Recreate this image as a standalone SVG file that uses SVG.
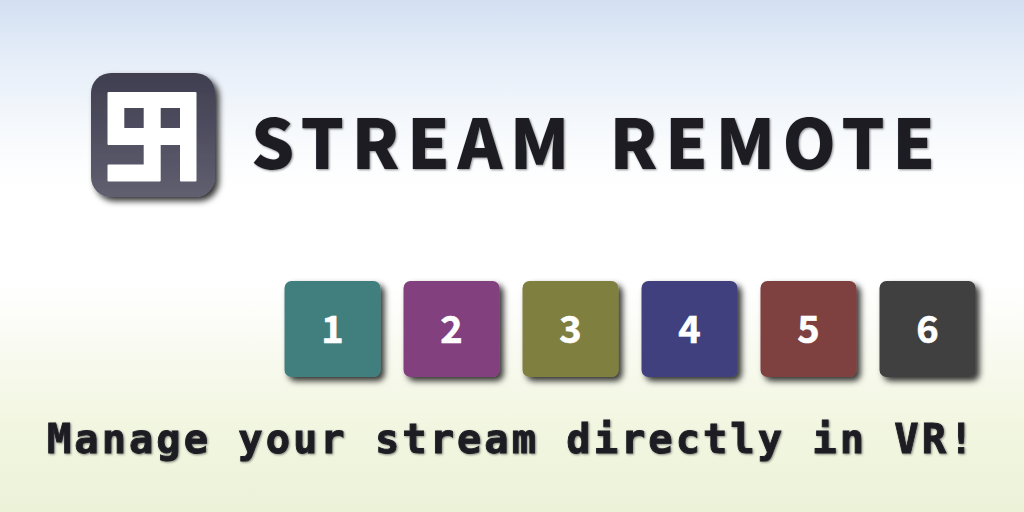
<svg xmlns="http://www.w3.org/2000/svg" width="1024" height="512" viewBox="0 0 1024 512">
<defs>
<linearGradient id="bg" x1="0" y1="0" x2="0" y2="1"><stop offset="0" stop-color="#d3e0f2"/><stop offset="0.12" stop-color="#e6eef9"/><stop offset="0.25" stop-color="#f6f9fc"/><stop offset="0.36" stop-color="#ffffff"/><stop offset="0.56" stop-color="#ffffff"/><stop offset="0.7" stop-color="#f8faef"/><stop offset="0.8" stop-color="#f3f7e3"/><stop offset="1" stop-color="#ecf2d8"/></linearGradient>
<linearGradient id="logo" x1="0" y1="0" x2="0" y2="1"><stop offset="0" stop-color="#3f3e50"/><stop offset="1" stop-color="#605f70"/></linearGradient>
<filter id="sh" x="-20%" y="-20%" width="150%" height="150%"><feDropShadow dx="4" dy="4" stdDeviation="3" flood-color="#000" flood-opacity="0.8"/></filter>
<filter id="ts" x="-5%" y="-20%" width="110%" height="140%"><feDropShadow dx="1" dy="1" stdDeviation="1" flood-color="#000" flood-opacity="0.45"/></filter>
</defs>
<style>
.k{filter:url(#sh)}
.n{font-family:"Noto Sans CJK JP",sans-serif;font-weight:700;font-size:38px;fill:#fff;stroke:#fff;stroke-width:0.6px;text-anchor:middle}
.t{font-family:"Noto Sans CJK JP",sans-serif;font-weight:900;font-size:68px;letter-spacing:7.500px;word-spacing:9.500px;fill:#1c1c24;filter:url(#ts)}
.m{font-family:"DejaVu Sans Mono",monospace;font-weight:700;font-size:40.500px;letter-spacing:2.950px;fill:#1c1c24;stroke:#1c1c24;stroke-width:0.9px;filter:url(#ts)}
</style>
<rect width="1024" height="512" fill="url(#bg)"/>
<g id="logo-mark">
<rect x="91" y="73" width="124" height="124" rx="20" fill="url(#logo)" class="k"/>
<path fill="#fff" fill-rule="evenodd" stroke="#fff" stroke-width="2" stroke-linejoin="round" d="M108.500 93H195.500V180.500H181V144H159.700V180.500H108.500V165.500H144.700V144H108.500ZM123.300 107V129H144.700V107ZM159.700 107V129H181V107Z"/>
</g>
<g id="title"><text class="t" x="251" y="169">STREAM REMOTE</text></g>
<g id="key-1"><rect class="k" x="284.500" y="281" width="96" height="96" rx="7" fill="#417f7e"/><text class="n" x="332.500" y="343">1</text></g>
<g id="key-2"><rect class="k" x="403.500" y="281" width="96" height="96" rx="7" fill="#823f7e"/><text class="n" x="451.500" y="343">2</text></g>
<g id="key-3"><rect class="k" x="522.500" y="281" width="96" height="96" rx="7" fill="#7f7f3f"/><text class="n" x="570.500" y="343">3</text></g>
<g id="key-4"><rect class="k" x="641.500" y="281" width="96" height="96" rx="7" fill="#3f3f7f"/><text class="n" x="689.500" y="343">4</text></g>
<g id="key-5"><rect class="k" x="760.500" y="281" width="96" height="96" rx="7" fill="#7f3f3f"/><text class="n" x="808.500" y="343">5</text></g>
<g id="key-6"><rect class="k" x="879.500" y="281" width="96" height="96" rx="7" fill="#3f3f3f"/><text class="n" x="927.500" y="343">6</text></g>
<g id="tagline"><text class="m" x="47" y="453">Manage your stream directly in VR!</text></g>
<g id="connectors"/>
</svg>
